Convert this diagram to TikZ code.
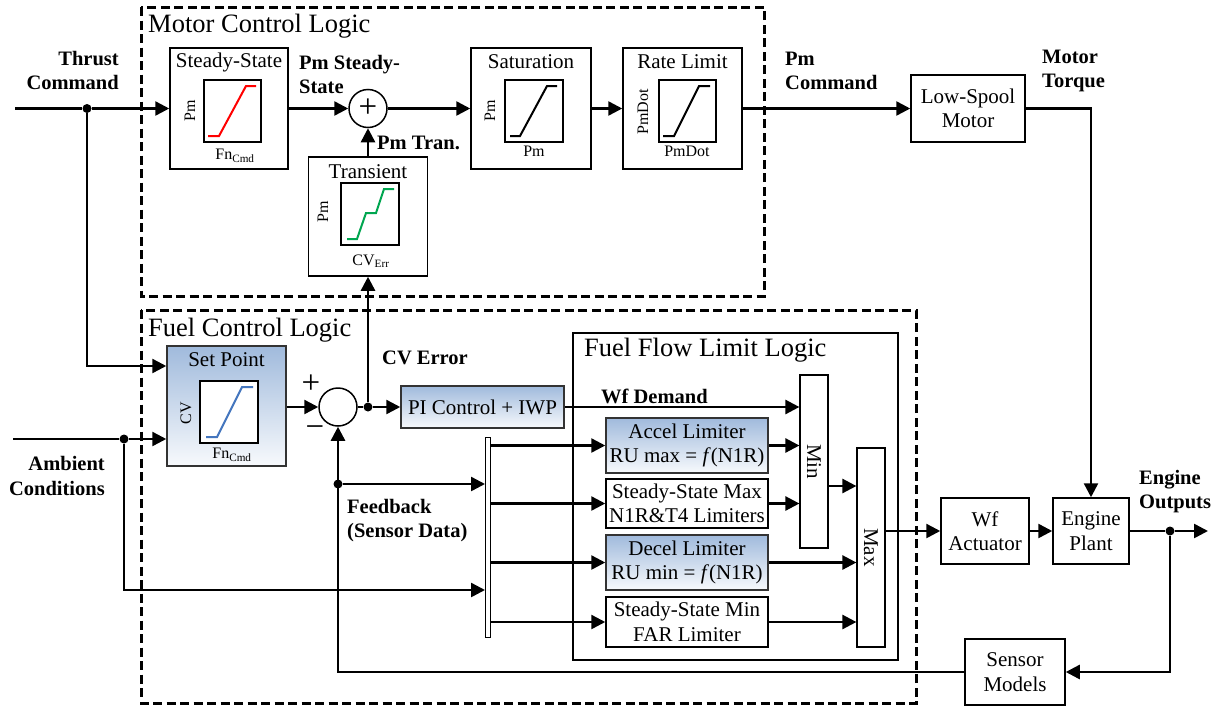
\documentclass[tikz,border=0pt]{standalone}
\usepackage{fontspec}
\setmainfont{Liberation Serif}
\usetikzlibrary{arrows.meta,positioning,calc}
\definecolor{gradtop}{RGB}{160,186,220}
\definecolor{plotgreen}{RGB}{0,166,80}
\definecolor{plotblue}{RGB}{68,118,190}

\begin{document}
\begin{tikzpicture}[
  x=1pt, y=-1pt,
  font=\fontsize{21}{24.5}\selectfont,
  blk/.style={rectangle, draw, line width=1.5pt, inner sep=0pt, align=center},
  shadeblk/.style={blk, top color=gradtop, bottom color=white!92!gradtop, draw=black!80},
  thinblk/.style={blk, line width=1.2pt},
  plotbox/.style={rectangle, draw, fill=white, line width=2pt, minimum width=57pt,
                  minimum height=62pt, inner sep=0pt},
  axlab/.style={font=\fontsize{16}{18}\selectfont, inner sep=0pt},
  ttl/.style={inner sep=0pt},
  bigttl/.style={inner sep=0pt, anchor=west, font=\fontsize{26.5}{30}\selectfont},
  sumj/.style={circle, draw, fill=white, line width=1.5pt, minimum size=38pt, inner sep=0pt},
  sign/.style={inner sep=0pt, font=\fontsize{33}{33}\selectfont},
  dot/.style={circle, fill, minimum size=9pt, inner sep=0pt},
  lbl/.style={font=\bfseries\fontsize{20.5}{24.5}\selectfont, inner sep=0pt},
  region/.style={draw, line width=3pt, dash pattern=on 9pt off 4.5pt},
  arr/.style={line width=2.5pt, -{Triangle[length=14pt, width=14pt]}},
  ln/.style={line width=2.5pt},
  curve/.style={line width=2pt}
]
\useasboundingbox (0,0) rectangle (1225,707);

% regions
\draw[region] (141,7) rectangle (764,296);
\node[bigttl] (mcltitle) at (148,26) {Motor Control Logic};
\draw[region] (141,310) rectangle (916,703);
\node[bigttl] (fcltitle) at (148,330) {Fuel Control Logic};

% motor control blocks
\node[blk, minimum width=118pt, minimum height=121pt] (ssmap) at (229,108.5) {};
\node[ttl] (sstitle) at (229,62) {Steady-State};
\node[plotbox] (ssplot) at (232.5,111) {};
\node[axlab, rotate=90] (ssy) at (190,111) {Pm};
\node[axlab] (ssx) at (235,156) {Fn\textsubscript{Cmd}};
\draw[curve, red] (208,136) -- (219,136) -- (246,86) -- (256,86);

\node[sumj] (sumpm) at (368,108.5) {};
\node[sign] (sumpmsign) at (sumpm) {+};

\node[blk, minimum width=119pt, minimum height=119pt] (trans) at (368,216.5) {};
\node[ttl] (transtitle) at (368,172) {Transient};
\node[plotbox, minimum width=58pt] (transplot) at (370,214) {};
\node[axlab, rotate=90] (transy) at (323,212) {Pm};
\node[axlab] (transx) at (371,261) {CV\textsubscript{Err}};
\draw[curve, plotgreen] (347,239) -- (357,239) -- (366,213) -- (376,213) -- (384,189) -- (394,189);

\node[blk, minimum width=120pt, minimum height=121pt] (sat) at (531,108.5) {};
\node[ttl] (sattitle) at (531,62) {Saturation};
\node[plotbox, minimum width=58pt] (satplot) at (534,111) {};
\node[axlab, rotate=90] (saty) at (490,111) {Pm};
\node[axlab] (satx) at (534,151) {Pm};
\draw[curve] (510,136) -- (520,136) -- (547,86) -- (557,86);

\node[blk, minimum width=119pt, minimum height=121pt] (ratelim) at (682.5,108.5) {};
\node[ttl] (ratetitle) at (682.5,62) {Rate Limit};
\node[plotbox] (rateplot) at (687.5,111) {};
\node[axlab, rotate=90] (ratey) at (643,112) {PmDot};
\node[axlab] (ratex) at (687,151) {PmDot};
\draw[curve] (663,136) -- (674,136) -- (699,86) -- (710,86);

\node[blk, minimum width=114pt, minimum height=67pt] (motor) at (968,108.5) {Low-Spool\\Motor};

% fuel control blocks
\node[shadeblk, minimum width=119pt, minimum height=120pt] (setpt) at (226.5,406) {};
\node[ttl] (setpttitle) at (226.5,360) {Set Point};
\node[plotbox, minimum width=58pt] (setptplot) at (229,412) {};
\node[axlab, rotate=90] (setpty) at (186,413) {CV};
\node[axlab] (setptx) at (232,455) {Fn\textsubscript{Cmd}};
\draw[curve, plotblue] (206,437) -- (217,437) -- (242,387) -- (253,387);

\node[sumj] (sumcv) at (338,407) {};
\node[sign] (plus) at (311,384) {+};
\node[sign] (minus) at (315,432) {−};

\node[shadeblk, minimum width=163pt, minimum height=42pt] (picntl) at (482.5,407) {PI Control + IWP};

\node[thinblk, minimum width=325pt, minimum height=327pt] (fflbox) at (735.5,496.5) {};
\node[bigttl] (ffltitle) at (584,350) {Fuel Flow Limit Logic};

\node[thinblk, minimum width=28pt, minimum height=173pt] (minblk) at (814,461.5) {};
\node[rotate=-90, inner sep=0pt] (mintext) at (minblk) {Min};
\node[thinblk, minimum width=28pt, minimum height=199pt] (maxblk) at (871,547.5) {};
\node[rotate=-90, inner sep=0pt] (maxtext) at (maxblk) {Max};

\node[shadeblk, minimum width=162pt, minimum height=55pt] (accel) at (687,445.5) {Accel Limiter\\RU max = \textit{f}(N1R)};
\node[blk, minimum width=162pt, minimum height=49pt] (ssmax) at (687,503.5) {Steady-State Max\\N1R\&T4 Limiters};
\node[shadeblk, minimum width=162pt, minimum height=55pt] (decel) at (687,562.5) {Decel Limiter\\RU min = \textit{f}(N1R)};
\node[blk, minimum width=162pt, minimum height=50pt] (ssmin) at (687,622) {Steady-State Min\\FAR Limiter};

\node[draw, line width=1pt, minimum width=5pt, minimum height=200pt, inner sep=0pt] (bus) at (488,537) {};

% engine side
\node[blk, minimum width=88pt, minimum height=66pt] (wfact) at (985,531) {Wf\\Actuator};
\node[blk, minimum width=76pt, minimum height=66pt] (plant) at (1091,531) {Engine\\Plant};
\node[blk, minimum width=100pt, minimum height=66pt] (sensors) at (1015,672) {Sensor\\Models};

% signal labels
\node[lbl, anchor=east, align=right] (tclabel) at (119,70.5) {Thrust\\Command};
\node[lbl, anchor=west, align=left] (psslabel) at (299,74.5) {Pm Steady-\\State};
\node[lbl, anchor=west] (ptrlabel) at (377,143) {Pm Tran.};
\node[lbl, anchor=west, align=left] (pmclabel) at (785,71) {Pm\\Command};
\node[lbl, anchor=west, align=left] (mtlabel) at (1042,71) {Motor\\Torque};
\node[lbl, anchor=east, align=right] (aclabel) at (105,476) {Ambient\\Conditions};
\node[lbl, anchor=west] (cvlabel) at (382,358) {CV Error};
\node[lbl, anchor=west] (wflabel) at (601,396) {Wf Demand};
\node[lbl, anchor=west, align=left] (fblabel) at (347,520.5) {Feedback\\(Sensor Data)};
\node[lbl, anchor=west, align=left] (eolabel) at (1139,491.5) {Engine\\Outputs};

% thrust command
\coordinate (tcin) at (15,108.5);
\node[dot] (tcdot) at (87,108.5) {};
\coordinate (tcturn) at (87,366);
\draw[ln] (tcin) -- (tcdot);
\draw[arr] (tcdot) -- (ssmap.west);
\draw[arr] (tcdot) -- (tcturn) -- (tcturn -| setpt.west);

% motor path
\draw[arr] (ssmap.east) -- (sumpm.west);
\draw[arr] (trans.north) -- (sumpm.south);
\draw[arr] (sumpm.east) -- (sat.west);
\draw[arr] (sat.east) -- (ratelim.west);
\draw[arr] (ratelim.east) -- (motor.west);
\draw[arr] (motor.east) -- (motor.east -| plant.north) -- (plant.north);

% ambient conditions
\coordinate (acin) at (13,439);
\node[dot] (acdot) at (124,439) {};
\coordinate (acturn) at (124,590);
\draw[ln] (acin) -- (acdot);
\draw[arr] (acdot) -- (acdot -| setpt.west);
\draw[arr] (acdot) -- (acturn) -- (acturn -| bus.west);

% cv error
\draw[arr] (setpt.east |- sumcv.west) -- (sumcv.west);
\node[dot] (cvdot) at (368,407) {};
\draw[ln] (sumcv.east) -- (cvdot);
\draw[arr] (cvdot) -- (picntl.west);
\draw[arr] (cvdot) -- (trans.south);

% limit logic
\draw[arr] (picntl.east) -- (picntl.east -| minblk.west);
\draw[arr] (bus.east |- accel.west) -- (accel.west);
\draw[arr] (bus.east |- ssmax.west) -- (ssmax.west);
\draw[arr] (bus.east |- decel.west) -- (decel.west);
\draw[arr] (bus.east |- ssmin.west) -- (ssmin.west);
\draw[arr] (accel.east) -- (accel.east -| minblk.west);
\draw[arr] (ssmax.east) -- (ssmax.east -| minblk.west);
\draw[arr] (decel.east) -- (decel.east -| maxblk.west);
\draw[arr] (ssmin.east) -- (ssmin.east -| maxblk.west);
\draw[arr] (minblk.east |- 0,486) -- (maxblk.west |- 0,486);
\draw[arr] (maxblk.east |- wfact.west) -- (wfact.west);

% engine and feedback
\draw[arr] (wfact.east) -- (plant.west);
\node[dot] (eodot) at (1170,531) {};
\coordinate (eoout) at (1208,531);
\draw[ln] (plant.east) -- (eodot);
\draw[arr] (eodot) -- (eoout);
\draw[arr] (eodot) -- (eodot |- sensors.east) -- (sensors.east);
\draw[arr] (sensors.west) -- (sensors.west -| sumcv.south) -- (sumcv.south);
\node[dot] (fbdot) at (338,484) {};
\draw[arr] (fbdot) -- (fbdot -| bus.west);
\end{tikzpicture}
\end{document}
